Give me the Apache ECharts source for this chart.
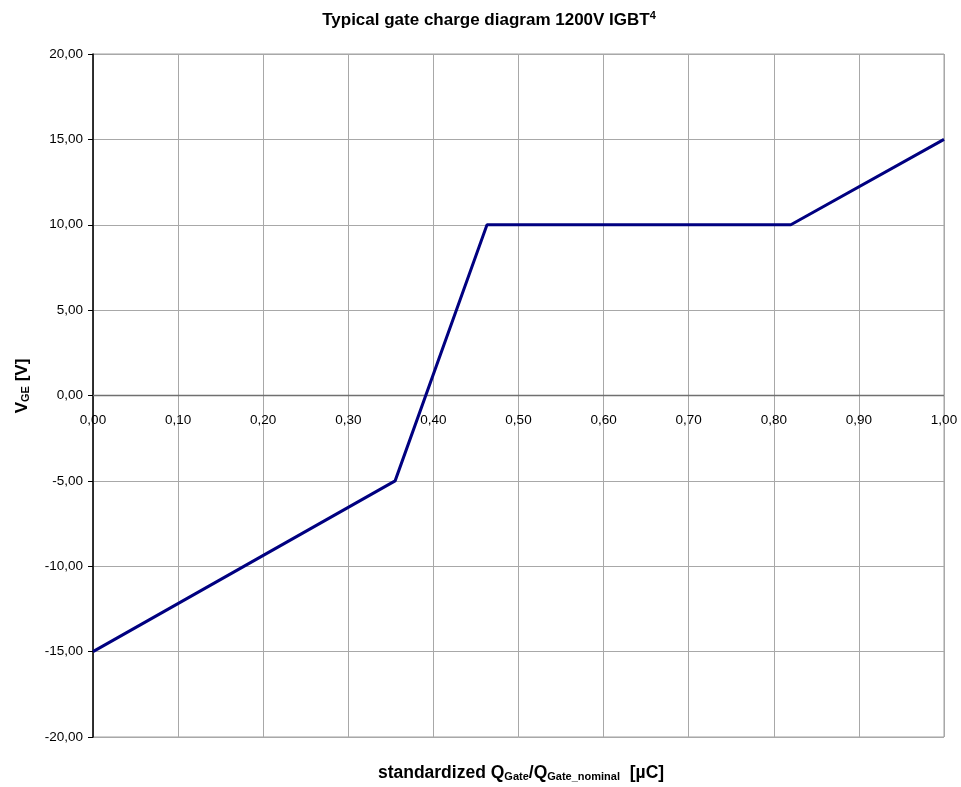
<!DOCTYPE html>
<html>
<head>
<meta charset="utf-8">
<script src="https://cdn.jsdelivr.net/npm/echarts@6/dist/echarts.min.js"></script>
<style>html,body{margin:0;padding:0;background:#fff}#c{width:961px;height:787px}</style>
</head>
<body>
<div id="c"></div>
<script>
var qGate = [0.00, 0.355, 0.463, 0.82, 1.00];
var vGE = [-15, -5, 10, 10, 15];
var xTicks = [0, 0.1, 0.2, 0.3, 0.4, 0.5, 0.6, 0.7, 0.8, 0.9, 1.0];
var yTicks = [-20, -15, -10, -5, 0, 5, 10, 15, 20];

function fmt(v){ return v.toFixed(2).replace('.', ','); }

var chart = echarts.init(document.getElementById('c'));
var font = '"Liberation Sans", Arial, sans-serif';
var subRich = { sub: { fontFamily: font, fontSize: 11, fontWeight: 'bold', color: '#000', verticalAlign: 'bottom', padding: [8,0,0,0] } };
chart.setOption({
  animation: false,
  backgroundColor: '#fff',
  grid: { left: 93, right: 17, top: 54, bottom: 50, show: true, borderColor: '#a0a0a0', borderWidth: 1 },
  xAxis: {
    type: 'value', min: xTicks[0], max: xTicks[xTicks.length-1], interval: 0.1,
    axisLine: { show: false },
    axisTick: { show: false },
    axisLabel: { show: false },
    splitLine: { show: true, lineStyle: { color: '#a8a8a8', width: 1 } }
  },
  yAxis: {
    type: 'value', min: yTicks[0], max: yTicks[yTicks.length-1], interval: 5,
    axisLine: { show: true, onZero: false, lineStyle: { color: '#000', width: 1.5 } },
    axisTick: { show: true, length: 5, lineStyle: { color: '#000' } },
    axisLabel: { formatter: fmt, fontFamily: font, fontSize: 13.5, color: '#000', margin: 10 },
    splitLine: { show: true, lineStyle: { color: '#a8a8a8', width: 1 } }
  },
  graphic: [{
    type: 'text', x: 489, y: 20,
    style: {
      text: 'Typical gate charge diagram 1200V IGBT{sup|4}',
      align: 'center', verticalAlign: 'middle',
      font: 'bold 17px ' + font, fill: '#000',
      rich: { sup: { fontFamily: font, fontSize: 11, fontWeight: 'bold', color: '#000', verticalAlign: 'top', padding: [0,0,9,0] } }
    }
  }, {
    type: 'text', x: 521, y: 773,
    style: {
      text: 'standardized Q{sub|Gate}/Q{sub|Gate_nominal}  [µC]',
      align: 'center', verticalAlign: 'middle',
      font: 'bold 17.5px ' + font, fill: '#000',
      rich: subRich
    }
  }, {
    type: 'text', x: 22, y: 386, rotation: Math.PI / 2,
    style: {
      text: 'V{sub|GE} [V]',
      align: 'center', verticalAlign: 'middle',
      font: 'bold 17px ' + font, fill: '#000',
      rich: subRich
    }
  }],
  series: [{
    type: 'line',
    data: [[xTicks[0], 0], [xTicks[xTicks.length-1], 0]],
    symbol: 'none', silent: true,
    lineStyle: { color: '#707070', width: 1.5 },
    z: 1
  }, {
    type: 'scatter',
    data: xTicks.map(function(x){ return [x, 0]; }),
    symbolSize: 0, silent: true,
    itemStyle: { opacity: 1 },
    label: {
      show: true, position: 'bottom', distance: 18,
      formatter: function(p){ return fmt(p.value[0]); },
      fontFamily: font, fontSize: 13.5, color: '#000', opacity: 1
    }
  }, {
    type: 'line',
    data: qGate.map(function(x, i){ return [x, vGE[i]]; }),
    symbol: 'none',
    lineStyle: { color: '#000080', width: 3 },
    z: 3
  }]
});
</script>
</body>
</html>
